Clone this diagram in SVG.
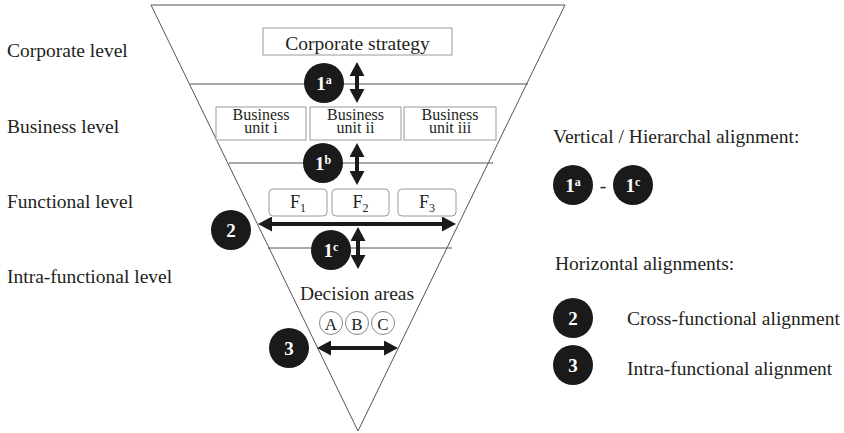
<svg xmlns="http://www.w3.org/2000/svg" width="844" height="433" viewBox="0 0 844 433">
<style>
  text { font-family: "Liberation Serif", "Times New Roman", serif; fill: #231f20; }
  .lbl { font-size: 19.5px; }
  .bu { font-size: 16px; }
  .box { fill: #fff; stroke: #9a9a9a; stroke-width: 1; }
  .fbox { fill: #fff; stroke: #9a9a9a; stroke-width: 1; }
  .edge { stroke: #555; stroke-width: 1; fill: none; }
  .dot { fill: #1a1a1a; }
  .num { fill: #fff; font-weight: bold; font-size: 19px; }
  .arr { stroke: #1a1a1a; stroke-width: 4; fill: none; marker-start: url(#ah); marker-end: url(#ah); }
  .abc { fill: #fff; stroke: #888; stroke-width: 1; }
</style>
<defs>
  <marker id="ah" markerUnits="userSpaceOnUse" markerWidth="14" markerHeight="15" viewBox="0 0 14 15" refX="4" refY="7.5" orient="auto-start-reverse">
    <path d="M0,0 L14,7.5 L0,15 Z" fill="#1a1a1a"/>
  </marker>
</defs>
<rect width="844" height="433" fill="#fff"/>

<g id="funnel">
  <path class="edge" d="M151,5 L565,5 L358,431 Z"/>
  <line class="edge" x1="190" y1="84" x2="528" y2="84"/>
  <line class="edge" x1="229" y1="163" x2="493" y2="163"/>
  <line class="edge" x1="268" y1="248" x2="452" y2="248"/>
</g>

<g id="level-labels">
  <text class="lbl" x="7" y="57">Corporate level</text>
  <text class="lbl" x="7" y="133">Business level</text>
  <text class="lbl" x="7" y="208">Functional level</text>
  <text class="lbl" x="7" y="283">Intra-functional level</text>
</g>

<g id="corporate-strategy">
  <rect class="box" x="263" y="28" width="189" height="27"/>
  <text class="lbl" x="357.5" y="50" text-anchor="middle">Corporate strategy</text>
</g>

<g id="bu1">
  <rect class="box" x="216" y="107" width="90" height="33"/>
  <text class="bu" x="261" y="120" text-anchor="middle">Business</text>
  <text class="bu" x="261" y="133" text-anchor="middle">unit i</text>
</g>
<g id="bu2">
  <rect class="box" x="310" y="107" width="91" height="33"/>
  <text class="bu" x="355.5" y="120" text-anchor="middle">Business</text>
  <text class="bu" x="355.5" y="133" text-anchor="middle">unit ii</text>
</g>
<g id="bu3">
  <rect class="box" x="404" y="107" width="92" height="33"/>
  <text class="bu" x="450" y="120" text-anchor="middle">Business</text>
  <text class="bu" x="450" y="133" text-anchor="middle">unit iii</text>
</g>

<g id="f1">
  <rect class="fbox" x="269" y="189" width="58" height="27" rx="4"/>
  <text x="298" y="208" font-size="18" text-anchor="middle">F<tspan font-size="12" dy="4">1</tspan></text>
</g>
<g id="f2">
  <rect class="fbox" x="332" y="189" width="57" height="27" rx="4"/>
  <text x="360.5" y="208" font-size="18" text-anchor="middle">F<tspan font-size="12" dy="4">2</tspan></text>
</g>
<g id="f3">
  <rect class="fbox" x="398" y="189" width="58" height="27" rx="4"/>
  <text x="427" y="208" font-size="18" text-anchor="middle">F<tspan font-size="12" dy="4">3</tspan></text>
</g>

<g id="decision-areas">
  <text class="lbl" x="357" y="300" text-anchor="middle">Decision areas</text>
  <circle class="abc" cx="331" cy="323" r="11.5"/>
  <circle class="abc" cx="357" cy="323" r="11.5"/>
  <circle class="abc" cx="383" cy="323" r="11.5"/>
  <text x="331" y="329.5" font-size="17" text-anchor="middle">A</text>
  <text x="357" y="329.5" font-size="17" text-anchor="middle">B</text>
  <text x="383" y="329.5" font-size="17" text-anchor="middle">C</text>
</g>

<g id="connectors">
  <line class="arr" x1="357" y1="72" x2="357" y2="93"/>
  <line class="arr" x1="357" y1="153" x2="357" y2="175"/>
  <line class="arr" x1="358" y1="237" x2="358" y2="259"/>
  <line class="arr" x1="268" y1="224" x2="446" y2="224"/>
  <line class="arr" x1="327" y1="348" x2="388" y2="348"/>
</g>

<g id="badge-1a">
  <circle class="dot" cx="324" cy="83" r="20"/>
  <text class="num" x="324" y="90" text-anchor="middle">1<tspan font-size="12" dy="-6">a</tspan></text>
</g>
<g id="badge-1b">
  <circle class="dot" cx="323" cy="163" r="20"/>
  <text class="num" x="323" y="170" text-anchor="middle">1<tspan font-size="12" dy="-6">b</tspan></text>
</g>
<g id="badge-1c">
  <circle class="dot" cx="331" cy="250" r="20"/>
  <text class="num" x="331" y="257" text-anchor="middle">1<tspan font-size="12" dy="-6">c</tspan></text>
</g>
<g id="badge-2">
  <circle class="dot" cx="231" cy="230" r="20"/>
  <text class="num" x="231" y="237" text-anchor="middle">2</text>
</g>
<g id="badge-3">
  <circle class="dot" cx="289" cy="348" r="20"/>
  <text class="num" x="289" y="355" text-anchor="middle">3</text>
</g>

<g id="legend">
  <text class="lbl" x="553" y="143">Vertical / Hierarchal alignment:</text>
  <circle class="dot" cx="573" cy="185" r="20"/>
  <text class="num" x="573" y="192" text-anchor="middle">1<tspan font-size="12" dy="-6">a</tspan></text>
  <text class="lbl" x="603" y="192" text-anchor="middle">-</text>
  <circle class="dot" cx="633" cy="185" r="20"/>
  <text class="num" x="633" y="192" text-anchor="middle">1<tspan font-size="12" dy="-6">c</tspan></text>
  <text class="lbl" x="555" y="270">Horizontal alignments:</text>
  <circle class="dot" cx="573" cy="318" r="20"/>
  <text class="num" x="573" y="325" text-anchor="middle">2</text>
  <text class="lbl" x="627" y="325">Cross-functional alignment</text>
  <circle class="dot" cx="573" cy="365" r="20"/>
  <text class="num" x="573" y="372" text-anchor="middle">3</text>
  <text class="lbl" x="627" y="375">Intra-functional alignment</text>
</g>
</svg>
